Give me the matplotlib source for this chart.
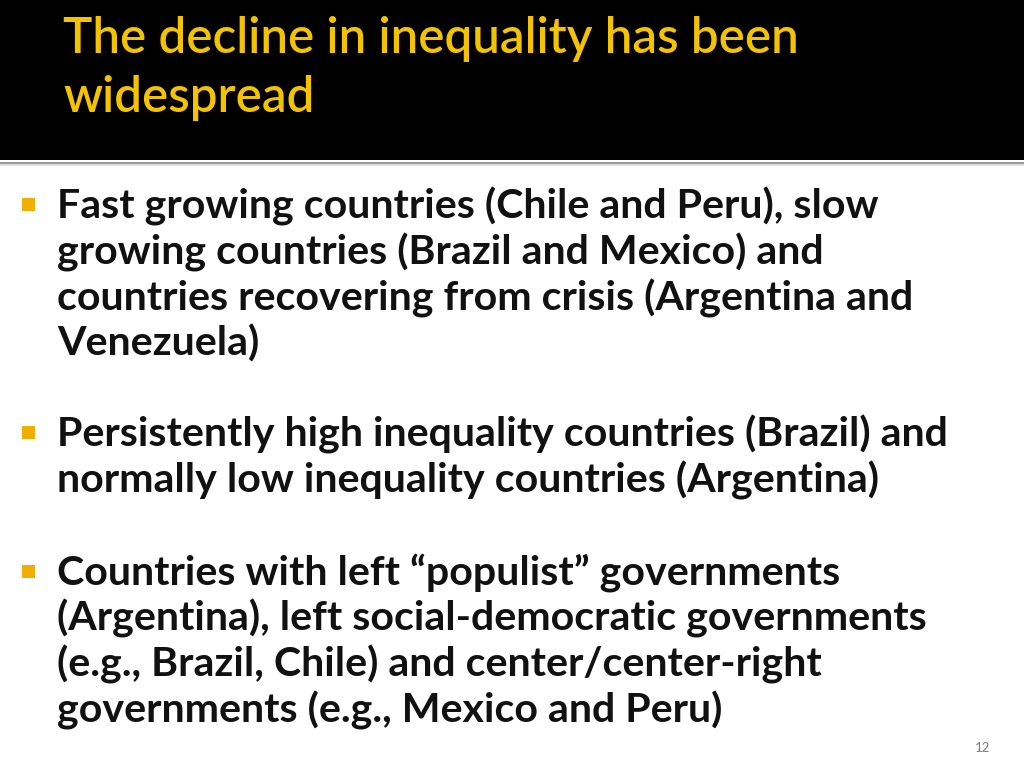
import numpy as np
import matplotlib.pyplot as plt
from matplotlib.patches import Rectangle

# slide content
title_lines = ["The decline in inequality has been", "widespread"]
body_lines = [
    "Fast growing countries (Chile and Peru), slow",
    "growing countries (Brazil and Mexico) and",
    "countries recovering from crisis (Argentina and",
    "Venezuela)",
    "Persistently high inequality countries (Brazil) and",
    "normally low inequality countries (Argentina)",
    "Countries with left \u201cpopulist\u201d governments",
    "(Argentina), left social-democratic governments",
    "(e.g., Brazil, Chile) and center/center-right",
    "governments (e.g., Mexico and Peru)",
]
bullet_lines = [0, 4, 6]
page_number = "12"

# layout in pixels
W, H = 1024, 768
title_base = [53, 112]
title_right = [801, 315]
body_base = [218, 264, 310, 356, 446, 492, 585, 631, 677, 722]
body_right = [875, 822, 911, 256, 948, 885, 845, 938, 827, 727]
left_title, left_body = 63, 57

FONT = "Lato"
GOLD = "#F3C300"

fig = plt.figure(figsize=(W / 100, H / 100), dpi=100)
ax = fig.add_axes([0, 0, 1, 1])
ax.set_xlim(0, W)
ax.set_ylim(H, 0)
ax.axis("off")

# header band and separator
ax.add_patch(Rectangle((0, 0), W, 160, color="black", lw=0))
ax.add_patch(Rectangle((0, 161.5), W, 2.5, color="#9a9a9a", lw=0))
ax.add_patch(Rectangle((0, 164), W, 2, color="#dedede", lw=0))

renderer = fig.canvas.get_renderer()


def fit_size(lines, lefts, rights, weight):
    # font size so that measured widths match the reference widths
    ratios = []
    for s, r in zip(lines, rights):
        t = ax.text(0, 0, s, fontsize=10, family=FONT, weight=weight)
        w = t.get_window_extent(renderer).width
        t.remove()
        ratios.append((r - lefts) / w)
    return 10 * float(np.median(ratios))


title_size = fit_size(title_lines, left_title, title_right, "semibold")
body_size = fit_size(body_lines, left_body, body_right, "bold")

for s, y in zip(title_lines, title_base):
    ax.text(left_title, y, s, fontsize=title_size, family=FONT,
            weight="semibold", color=GOLD, va="baseline", ha="left")

for i, (s, y) in enumerate(zip(body_lines, body_base)):
    ax.text(left_body, y, s, fontsize=body_size, family=FONT,
            weight="bold", color="#111111", va="baseline", ha="left")
    if i in bullet_lines:
        ax.add_patch(Rectangle((22, y - 20), 12.5, 12.5, color="#F0AE00", lw=0))

ax.text(990, 752, page_number, fontsize=9.5, family=FONT, color="#7f7f7f",
        ha="right", va="baseline")

fig.savefig("out.png", dpi=100, facecolor="white")
